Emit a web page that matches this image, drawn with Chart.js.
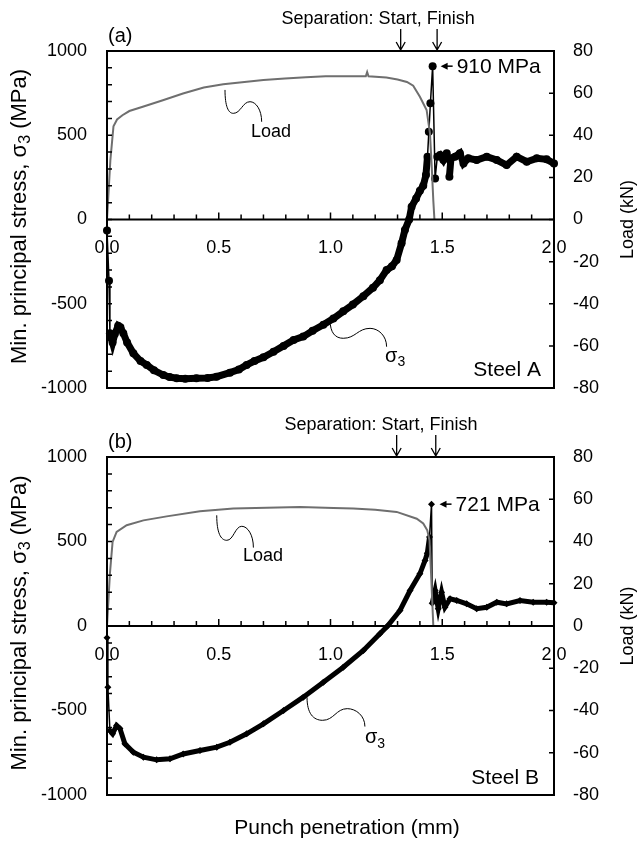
<!DOCTYPE html>
<html>
<head>
<meta charset="utf-8">
<script src="https://cdn.jsdelivr.net/npm/chart.js@4.4.1/dist/chart.umd.min.js"></script>
<style>
  html, body { margin: 0; padding: 0; background: #fff; }
  #wrap { position: relative; width: 638px; height: 843px; }
  canvas { position: absolute; left: 0; }
  #chartA { top: 0; }
  #chartB { top: 400px; }
</style>
</head>
<body>
<div id="wrap">
  <canvas id="chartA" width="638" height="420"></canvas>
  <canvas id="chartB" width="638" height="443"></canvas>
</div>
<script>
// Steel A: min. principal stress (MPa) vs punch penetration (mm)
const stressAx = [0, 0.009, 0.013, 0.02, 0.025, 0.035, 0.05, 0.06, 0.073, 0.09,
  0.118, 0.15, 0.178, 0.21, 0.252, 0.28, 0.312, 0.35, 0.40, 0.45,
  0.49, 0.55, 0.59, 0.625, 0.66, 0.70, 0.745, 0.79, 0.835, 0.878,
  0.92, 0.968, 1.013, 1.057, 1.10, 1.147, 1.19, 1.221, 1.251, 1.275,
  1.296, 1.318, 1.333, 1.352, 1.363, 1.383, 1.40, 1.415, 1.427, 1.434,
  1.44, 1.447, 1.457, 1.468, 1.478, 1.49, 1.505, 1.52, 1.532, 1.539,
  1.557, 1.579, 1.595, 1.617, 1.654, 1.699, 1.744, 1.788, 1.833, 1.878,
  1.923, 1.967, 2.0];
const stressAy = [-65, -363, -675, -705, -730, -680, -631, -640, -675, -730,
  -794, -840, -863, -895, -923, -935, -942, -945, -942, -940,
  -933, -909, -890, -863, -840, -818, -785, -750, -715, -695,
  -660, -625, -588, -545, -505, -455, -405, -360, -300, -278,
  -240, -141, -62, 0, 76, 125, 170, 200, 264, 373,
  521, 690, 910, 244, 373, 383, 353, 393, 254, 363,
  373, 393, 333, 363, 353, 373, 353, 323, 373, 343,
  363, 357, 333];
// Steel A: load (kN)
const loadAx = [0, 0.015, 0.029, 0.045, 0.069, 0.10, 0.16, 0.25, 0.34, 0.433,
  0.52, 0.615, 0.70, 0.796, 0.89, 0.978, 1.07, 1.158, 1.164, 1.17,
  1.25, 1.30, 1.342, 1.37, 1.40, 1.43, 1.445, 1.453, 1.46, 1.465];
const loadAy = [0, 28, 44.3, 47.5, 49.5, 51.5, 53.5, 56.6, 59.8, 62.7,
  64.2, 65.3, 66.2, 66.9, 67.5, 68, 68, 68, 70, 68,
  67.4, 66.5, 65.3, 63.5, 58.3, 52, 41, 25, 9, 0];

// Steel B
const stressBx = [0, 0.004, 0.013, 0.025, 0.043, 0.058, 0.08, 0.118, 0.163, 0.222,
  0.282, 0.341, 0.416, 0.491, 0.55, 0.625, 0.70, 0.79, 0.878, 0.968,
  1.057, 1.147, 1.221, 1.255, 1.311, 1.356, 1.40, 1.423, 1.433, 1.443,
  1.452, 1.455, 1.468, 1.482, 1.497, 1.512, 1.535, 1.565, 1.609, 1.654,
  1.699, 1.744, 1.788, 1.848, 1.907, 1.967, 2.0];
const stressBy = [-70, -362, -618, -637, -589, -607, -697, -747, -776, -792,
  -786, -757, -737, -717, -688, -638, -579, -500, -421, -333,
  -244, -145, -46, 0, 92, 210, 309, 388, 430, 526,
  721, 135, 210, 102, 200, 111, 161, 151, 131, 102,
  111, 141, 131, 151, 141, 141, 137];
const loadBx = [0, 0.013, 0.025, 0.043, 0.088, 0.163, 0.267, 0.416, 0.565, 0.715,
  0.864, 1.013, 1.102, 1.20, 1.296, 1.386, 1.415, 1.433, 1.443, 1.45, 1.46];
const loadBy = [0, 24.8, 39.8, 44.5, 47.7, 50, 51.9, 54.3, 55.6, 56,
  56.3, 55.9, 55.6, 55, 54, 50.8, 48.5, 45.3, 40.6, 24.8, 0];

const FONT = '"Liberation Sans", Arial, sans-serif';
const toXY = (xs, ys) => xs.map((v, i) => ({ x: v, y: ys[i] }));

function wave(ctx, p) {
  const [a, b, c, d] = p;
  ctx.beginPath();
  ctx.moveTo(a.x, a.y);
  ctx.bezierCurveTo(a.x, a.y + (b.y - a.y) * 0.7, b.x - (b.x - a.x) * 0.6, b.y, b.x, b.y);
  ctx.bezierCurveTo(b.x + (c.x - b.x) * 0.45, b.y, c.x - (c.x - b.x) * 0.45, c.y, c.x, c.y);
  ctx.bezierCurveTo(c.x + (d.x - c.x) * 0.5, c.y, d.x, d.y - (d.y - c.y) * 0.6, d.x, d.y);
  ctx.stroke();
}

function sigma3(ctx, x, y, size) {
  ctx.textAlign = 'left';
  ctx.textBaseline = 'middle';
  ctx.font = size + 'px ' + FONT;
  ctx.fillText('σ', x, y);
  const w = ctx.measureText('σ').width;
  ctx.font = Math.round(size * 0.72) + 'px ' + FONT;
  ctx.fillText('3', x + w, y + size * 0.3);
}

// thin line where the sampled points are far apart on a steep jump
function bandWidth(c, band) {
  const dx = Math.abs(c.p1.x - c.p0.x), dy = Math.abs(c.p1.y - c.p0.y);
  return dy > 2.5 * dx && Math.hypot(dx, dy) > 20 ? 1.5 : band;
}

const overlay = {
  id: 'overlay',
  afterDraw(chart, args, o) {
    const { ctx, chartArea: area } = chart;
    const sx = chart.scales.x, sy = chart.scales.y, sy2 = chart.scales.y2;
    const X = v => sx.getPixelForValue(v);
    const Y = v => sy.getPixelForValue(v);
    const P = q => ({ x: X(q[0]), y: Y(q[1]) });
    const y0 = Y(0);
    ctx.save();
    ctx.strokeStyle = '#000';
    ctx.fillStyle = '#000';

    // frame and zero axis
    ctx.lineWidth = 2;
    ctx.strokeRect(area.left, area.top, area.right - area.left, area.bottom - area.top);
    ctx.beginPath();
    ctx.moveTo(area.left, y0);
    ctx.lineTo(area.right, y0);
    ctx.stroke();

    // inward tick marks
    ctx.lineWidth = 1.5;
    ctx.beginPath();
    for (let i = 1; i < 20; i++) {
      const p = X(i / 10);
      ctx.moveTo(p, y0);
      ctx.lineTo(p, y0 - (i % 5 ? 5 : 7));
    }
    for (let v = -900; v < 1000; v += 100) {
      const p = Y(v);
      ctx.moveTo(area.left, p);
      ctx.lineTo(area.left + 5, p);
    }
    for (let v = -60; v < 80; v += 20) {
      const p = sy2.getPixelForValue(v);
      ctx.moveTo(area.right, p);
      ctx.lineTo(area.right - 5, p);
    }
    ctx.stroke();

    // panel tag
    ctx.font = '20px ' + FONT;
    ctx.textAlign = 'left';
    ctx.textBaseline = 'middle';
    ctx.fillText(o.tag, area.left + 1, area.top - 15);

    // separation arrows
    ctx.font = '18px ' + FONT;
    ctx.textAlign = 'center';
    ctx.fillText('Separation: Start, Finish', X(o.sepText), area.top - 32);
    ctx.lineWidth = 1.3;
    [o.sepStart, o.sepFinish].forEach(v => {
      const p = X(v);
      ctx.beginPath();
      ctx.moveTo(p, area.top - 22);
      ctx.lineTo(p, area.top - 1);
      ctx.moveTo(p - 4.5, area.top - 9);
      ctx.lineTo(p, area.top - 1);
      ctx.lineTo(p + 4.5, area.top - 9);
      ctx.stroke();
    });

    // peak label
    const pk = P(o.peak);
    ctx.beginPath();
    ctx.moveTo(pk.x + 8, pk.y);
    ctx.lineTo(pk.x + 15, pk.y - 3.5);
    ctx.lineTo(pk.x + 15, pk.y + 3.5);
    ctx.closePath();
    ctx.fill();
    ctx.lineWidth = 1.5;
    ctx.beginPath();
    ctx.moveTo(pk.x + 14, pk.y);
    ctx.lineTo(pk.x + 20, pk.y);
    ctx.stroke();
    ctx.font = '21px ' + FONT;
    ctx.textAlign = 'left';
    ctx.fillText(o.peakLabel, pk.x + 24, pk.y + 1);

    // leaders
    ctx.lineWidth = 1;
    wave(ctx, o.loadLeader.map(P));
    wave(ctx, o.sigmaLeader.map(P));
    const lt = P(o.loadText);
    ctx.font = '18px ' + FONT;
    ctx.textAlign = 'center';
    ctx.fillText('Load', lt.x, lt.y);
    const st = P(o.sigmaText);
    sigma3(ctx, st.x, st.y, 20);

    // steel name
    const sn = P(o.steelPos);
    ctx.font = '21px ' + FONT;
    ctx.textAlign = 'right';
    ctx.textBaseline = 'middle';
    ctx.fillText(o.steel, sn.x, sn.y);

    // left axis title
    ctx.save();
    ctx.translate(20, y0 - 3);
    ctx.rotate(-Math.PI / 2);
    const big = '22px ' + FONT, small = '16px ' + FONT;
    const t1 = 'Min. principal stress, σ', t2 = '3', t3 = ' (MPa)';
    ctx.font = big;
    const w1 = ctx.measureText(t1).width, w3 = ctx.measureText(t3).width;
    ctx.font = small;
    const w2 = ctx.measureText(t2).width;
    let cx = -(w1 + w2 + w3) / 2;
    ctx.textAlign = 'left';
    ctx.font = big;
    ctx.fillText(t1, cx, 0);
    cx += w1;
    ctx.font = small;
    ctx.fillText(t2, cx, 6);
    cx += w2;
    ctx.font = big;
    ctx.fillText(t3, cx, 0);
    ctx.restore();

    // right axis title
    ctx.save();
    ctx.translate(628, y0);
    ctx.rotate(-Math.PI / 2);
    ctx.font = '18px ' + FONT;
    ctx.textAlign = 'center';
    ctx.fillText('Load (kN)', 0, 0);
    ctx.restore();

    if (o.xTitle) {
      ctx.font = '21px ' + FONT;
      ctx.textAlign = 'center';
      ctx.fillText(o.xTitle, 347, area.bottom + 33);
    }
    ctx.restore();
  }
};

function makeChart(id, d) {
  return new Chart(document.getElementById(id), {
    type: 'line',
    data: {
      datasets: [
        {
          data: toXY(d.lx, d.ly),
          yAxisID: 'y2',
          borderColor: '#6f6f6f',
          borderWidth: 2,
          pointRadius: 0,
          clip: false,
        },
        {
          data: toXY(d.sx, d.sy),
          yAxisID: 'y',
          borderColor: '#000',
          backgroundColor: '#000',
          pointStyle: d.marker,
          pointRadius: d.pointRadius,
          pointBorderWidth: 0,
          pointBackgroundColor: '#000',
          clip: false,
          segment: {
            borderWidth: c => bandWidth(c, d.band),
          },
        },
      ],
    },
    options: {
      responsive: false,
      animation: false,
      layout: { padding: d.padding },
      plugins: {
        legend: { display: false },
        tooltip: { enabled: false },
        overlay: d.notes,
      },
      scales: {
        x: {
          type: 'linear',
          min: 0,
          max: 2,
          position: { y: 0 },
          grid: { display: false, drawTicks: false },
          border: { display: false },
          ticks: {
            stepSize: 0.5,
            padding: 18,
            color: '#000',
            maxRotation: 0,
            autoSkip: false,
            font: { family: FONT, size: 18 },
            callback: v => v.toFixed(1),
          },
        },
        y: {
          position: 'left',
          min: -1000,
          max: 1000,
          grid: { display: false, drawTicks: false },
          border: { display: false },
          ticks: {
            stepSize: 500,
            padding: 20,
            color: '#000',
            font: { family: FONT, size: 18 },
            callback: v => String(v),
          },
          afterFit: s => { s.width = 107; },
        },
        y2: {
          position: 'right',
          min: -80,
          max: 80,
          grid: { display: false, drawTicks: false },
          border: { display: false },
          ticks: {
            stepSize: 20,
            padding: 19,
            color: '#000',
            font: { family: FONT, size: 18 },
            callback: v => String(v),
          },
          afterFit: s => { s.width = 84; },
        },
      },
    },
    plugins: [overlay],
  });
}

makeChart('chartA', {
  sx: stressAx, sy: stressAy, lx: loadAx, ly: loadAy,
  marker: 'circle', pointRadius: 4, band: 7,
  padding: { top: 51, bottom: 32, left: 0, right: 0 },
  notes: {
    tag: '(a)', steel: 'Steel A', peakLabel: '910 MPa',
    peak: [1.457, 910],
    sepText: 1.213, sepStart: 1.314, sepFinish: 1.477,
    loadLeader: [[0.528, 769], [0.565, 630], [0.64, 699], [0.692, 580]],
    loadText: [0.734, 522],
    sigmaLeader: [[0.998, -596], [1.057, -705], [1.177, -646], [1.251, -755]],
    sigmaText: [1.244, -810],
    steelPos: [1.942, -893],
  },
});

makeChart('chartB', {
  sx: stressBx, sy: stressBy, lx: loadBx, ly: loadBy,
  marker: 'rectRot', pointRadius: 3.5, band: 5,
  padding: { top: 57, bottom: 48, left: 0, right: 0 },
  notes: {
    tag: '(b)', steel: 'Steel B', peakLabel: '721 MPa',
    peak: [1.452, 721],
    sepText: 1.226, sepStart: 1.296, sepFinish: 1.471,
    loadLeader: [[0.491, 655], [0.536, 507], [0.603, 590], [0.655, 464]],
    loadText: [0.698, 412],
    sigmaLeader: [[0.895, -422], [0.965, -558], [1.075, -489], [1.154, -595]],
    sigmaText: [1.154, -661],
    steelPos: [1.933, -901],
    xTitle: 'Punch penetration (mm)',
  },
});
</script>
</body>
</html>
